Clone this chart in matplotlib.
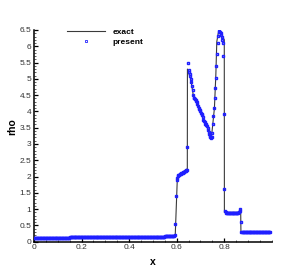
import numpy as np
import matplotlib
matplotlib.use("Agg")
import matplotlib.pyplot as plt
from matplotlib.ticker import MultipleLocator, FormatStrFormatter

plt.rcParams['font.family'] = ['Liberation Sans', 'DejaVu Sans']

# ---------------- data ----------------
# exact solution (key points of the reference curve)
x_exact = [0.0, 0.594, 0.603, 0.615, 0.645, 0.6455, 0.66, 0.67, 0.68, 0.70, 0.71,
           0.72, 0.73, 0.74, 0.747, 0.752, 0.759, 0.765, 0.769, 0.775, 0.779, 0.79,
           0.8005, 0.801, 0.869, 0.8695, 0.8705, 0.9975]
rho_exact = [0.11, 0.16, 1.95, 2.08, 2.24, 5.30, 4.97, 4.50, 4.36, 4.00, 3.82,
             3.62, 3.50, 3.28, 3.25, 3.60, 4.10, 5.12, 6.14, 6.40, 6.47, 6.35,
             6.20, 0.90, 0.90, 0.98, 0.31, 0.31]

# numerical ("present") solution on cells of width 0.0025
# left low-density region, cell centres 0.00125 ... 0.58875
x_left = np.linspace(0.00125, 0.58875, 236)
rho_left = [
    0.12, 0.12, 0.12, 0.12, 0.12, 0.12, 0.12, 0.12, 0.12, 0.12, 0.12, 0.12,
    0.12, 0.12, 0.12, 0.12, 0.12, 0.12, 0.12, 0.12, 0.12, 0.12, 0.12, 0.12,
    0.12, 0.12, 0.12, 0.12, 0.12, 0.12, 0.12, 0.12, 0.12, 0.12, 0.12, 0.12,
    0.12, 0.12, 0.12, 0.12, 0.12, 0.12, 0.12, 0.12, 0.12, 0.12, 0.12, 0.12,
    0.12, 0.12, 0.12, 0.12, 0.12, 0.12, 0.12, 0.12, 0.12, 0.12, 0.12, 0.12,
    0.13, 0.13, 0.13, 0.13, 0.13, 0.13, 0.13, 0.13, 0.13, 0.13, 0.13, 0.13,
    0.13, 0.13, 0.13, 0.13, 0.13, 0.13, 0.13, 0.13, 0.13, 0.13, 0.13, 0.13,
    0.13, 0.13, 0.13, 0.13, 0.13, 0.13, 0.13, 0.13, 0.13, 0.13, 0.13, 0.13,
    0.13, 0.13, 0.13, 0.13, 0.13, 0.13, 0.13, 0.13, 0.13, 0.13, 0.13, 0.13,
    0.13, 0.13, 0.13, 0.13, 0.13, 0.13, 0.13, 0.13, 0.13, 0.13, 0.13, 0.13,
    0.14, 0.14, 0.14, 0.14, 0.14, 0.14, 0.14, 0.14, 0.14, 0.14, 0.14, 0.14,
    0.14, 0.14, 0.14, 0.14, 0.14, 0.14, 0.14, 0.14, 0.14, 0.14, 0.14, 0.14,
    0.14, 0.14, 0.14, 0.14, 0.14, 0.14, 0.14, 0.14, 0.14, 0.14, 0.14, 0.14,
    0.14, 0.14, 0.14, 0.14, 0.14, 0.14, 0.14, 0.14, 0.14, 0.14, 0.14, 0.14,
    0.14, 0.14, 0.14, 0.14, 0.14, 0.14, 0.14, 0.14, 0.14, 0.14, 0.14, 0.14,
    0.15, 0.15, 0.15, 0.15, 0.15, 0.15, 0.15, 0.15, 0.15, 0.15, 0.15, 0.15,
    0.15, 0.15, 0.15, 0.15, 0.15, 0.15, 0.15, 0.15, 0.15, 0.15, 0.15, 0.15,
    0.15, 0.15, 0.15, 0.15, 0.15, 0.15, 0.15, 0.15, 0.15, 0.15, 0.15, 0.15,
    0.15, 0.15, 0.15, 0.15,
    0.16, 0.16, 0.16, 0.16, 0.16, 0.16, 0.16, 0.16, 0.16, 0.16, 0.16, 0.16,
    0.16, 0.16, 0.16, 0.16]

# shocked / peak region
x_mid = [0.5925, 0.595, 0.5975, 0.600, 0.6025, 0.605, 0.6075, 0.610, 0.6125, 0.615,
         0.6175, 0.620, 0.6225, 0.625, 0.6275, 0.630, 0.6325, 0.635, 0.6375, 0.640,
         0.6425, 0.645, 0.6475, 0.650, 0.6525, 0.655, 0.6575, 0.660, 0.6625, 0.665,
         0.6675, 0.670, 0.6725, 0.675, 0.6775, 0.680, 0.6825, 0.685, 0.6875, 0.690,
         0.6925, 0.695, 0.6975, 0.700, 0.7025, 0.705, 0.7075, 0.710, 0.7125, 0.715,
         0.7175, 0.720, 0.7225, 0.725, 0.7275, 0.730, 0.7325, 0.735, 0.7375, 0.740,
         0.7425, 0.745, 0.7475, 0.750, 0.7525, 0.755, 0.7575, 0.760, 0.7625, 0.765,
         0.7675, 0.770, 0.7725, 0.775, 0.7775, 0.780, 0.7825, 0.785, 0.7875, 0.790,
         0.7925, 0.795, 0.797, 0.799, 0.801]
rho_mid = [0.21, 0.53, 1.41, 1.90, 1.97, 2.01, 2.04, 2.06, 2.07, 2.08,
           2.09, 2.10, 2.11, 2.12, 2.13, 2.14, 2.155, 2.165, 2.18, 2.19,
           2.21, 2.92, 5.48, 5.28, 5.22, 5.15, 5.08, 5.00, 4.90, 4.78,
           4.65, 4.50, 4.42, 4.40, 4.38, 4.35, 4.32, 4.28, 4.22, 4.17,
           4.12, 4.08, 4.04, 4.00, 3.96, 3.92, 3.88, 3.82, 3.75, 3.70,
           3.66, 3.62, 3.60, 3.57, 3.54, 3.50, 3.44, 3.38, 3.32, 3.26,
           3.21, 3.18, 3.22, 3.35, 3.60, 3.85, 4.10, 4.41, 4.71, 5.02,
           5.38, 5.76, 6.09, 6.32, 6.44, 6.47, 6.44, 6.40, 6.35, 6.28,
           6.20, 6.09, 5.70, 3.92, 1.62]

# post-shock plateau
x_plat = np.linspace(0.8035, 0.8685, 27)
rho_plat = [0.93, 0.90, 0.89, 0.88, 0.88, 0.88, 0.88, 0.88, 0.88, 0.88,
            0.88, 0.88, 0.88, 0.88, 0.88, 0.88, 0.88, 0.88, 0.88, 0.88,
            0.88, 0.88, 0.89, 0.90, 0.92, 0.95, 0.99]

# second shock and undisturbed right state
x_shock = [0.8705]
rho_shock = [0.62]
x_right = np.linspace(0.8725, 0.9925, 49)
rho_right = [
    0.31, 0.31, 0.31, 0.31, 0.31, 0.31, 0.31, 0.31, 0.31, 0.31,
    0.31, 0.31, 0.31, 0.31, 0.31, 0.31, 0.31, 0.31, 0.31, 0.31,
    0.31, 0.31, 0.31, 0.31, 0.31, 0.31, 0.31, 0.31, 0.31, 0.31,
    0.31, 0.31, 0.31, 0.31, 0.31, 0.31, 0.31, 0.31, 0.31, 0.31,
    0.31, 0.31, 0.31, 0.31, 0.31, 0.31, 0.31, 0.31, 0.31]

x_num = np.concatenate([x_left, x_mid, x_plat, x_shock, x_right])
rho_num = np.concatenate([rho_left, rho_mid, rho_plat, rho_shock, rho_right])

x_ticks = [0, 0.2, 0.4, 0.6, 0.8]
y_ticks = [0, 0.5, 1, 1.5, 2, 2.5, 3, 3.5, 4, 4.5, 5, 5.5, 6, 6.5]

# ---------------- figure ----------------
W, H = 303, 268
fig = plt.figure(figsize=(W / 100, H / 100), dpi=100)
ax = fig.add_axes([34 / W, 26.3 / H, (271.7 - 34) / W, (241.7 - 30) / H])

ax.plot(x_exact, rho_exact, color='#3a3a3a', lw=0.8, label='exact', zorder=2)
num_line, = ax.plot(x_num, rho_num, ls='none', marker='s', ms=2.0, mfc='none',
                    mec='#1f1fff', mew=1.0, label='present', zorder=3)
num_line.set_snap(False)

ax.set_xlim(0, 1.0)
ax.set_ylim(0, 6.5)
ax.set_xticks(x_ticks)
ax.set_yticks(y_ticks)
ax.xaxis.set_minor_locator(MultipleLocator(0.05))
ax.yaxis.set_minor_locator(MultipleLocator(0.1))
ax.xaxis.set_major_formatter(FormatStrFormatter('%g'))
ax.yaxis.set_major_formatter(FormatStrFormatter('%g'))

for s in ['top', 'right']:
    ax.spines[s].set_visible(False)
for s in ['left', 'bottom']:
    ax.spines[s].set_linewidth(1.1)
    ax.spines[s].set_color('black')

ax.tick_params(which='major', direction='in', length=3.2, width=0.9,
               labelsize=6, pad=2, colors='black', labelcolor='#333333')
ax.tick_params(which='minor', direction='in', length=1.6, width=0.6, colors='#444444')

ax.set_xlabel('x', fontsize=7.5, fontweight='bold')
ax.set_ylabel('rho', fontsize=7.5, fontweight='bold')
ax.xaxis.set_label_coords(0.5, -(262 - 241.7) / 211.7)
ax.xaxis.label.set_va('center')
ax.yaxis.set_label_coords((12 - 34) / 237.7, (241.7 - 127) / 211.7)
ax.yaxis.label.set_va('center')

leg = ax.legend(loc='upper left', bbox_to_anchor=(67 / W, 1 - 28.5 / H),
                bbox_transform=fig.transFigure, frameon=False,
                borderaxespad=0, borderpad=0, handlelength=4.6,
                handletextpad=0.85, labelspacing=0.25, numpoints=1,
                prop={'size': 6, 'weight': 'bold'})
for h in leg.legend_handles:
    if h.get_marker() == 's':
        h.set_markersize(2.1)
        h.set_markeredgewidth(0.6)

fig.savefig('out.png', dpi=100)
